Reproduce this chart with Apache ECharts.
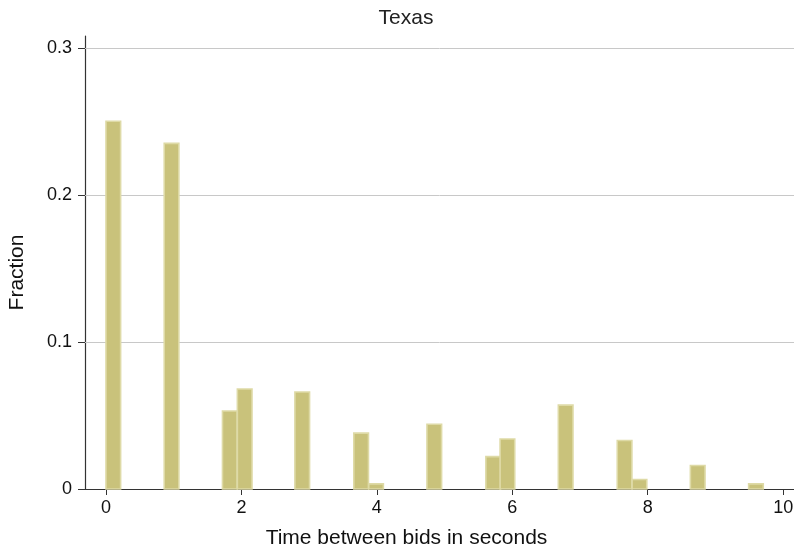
<!DOCTYPE html>
<html>
  <head>
    <meta charset="utf-8">
    <title>Texas</title>
    <script src="https://cdn.jsdelivr.net/npm/echarts@6/dist/echarts.min.js"></script>
    <style>
    html,body{
      height:100%;
      width:100%;
      margin:0px;
      background:#fff;
    }
    #chartDiv{
      width:794px;
      height:551px;
    }
    </style>
  </head>
  <body>
    <div id="chartDiv"></div>
    <script type="text/javascript">
      // left edge of each histogram bin (seconds) and its fraction
      var binStart = [0, 0.86, 1.72, 1.94, 2.79, 3.66, 3.88, 4.74, 5.61, 5.82, 6.68, 7.55, 7.77, 8.63, 9.49];
      var fraction = [0.250, 0.235, 0.053, 0.068, 0.066, 0.038, 0.0035, 0.044, 0.022, 0.034, 0.057, 0.033, 0.0065, 0.016, 0.0035];
      var binWidth = 0.216;
      var yTicks = [0, 0.1, 0.2, 0.3];

      var font = 'Liberation Sans, Arial, Helvetica, sans-serif';
      var bars = binStart.map(function(s, i){ return [s, fraction[i]]; });

      var xMin = -0.31, xMax = 10.16;
      var plotLeft = 85, plotWidth = 709;
      var zeroLeft = plotLeft + (0 - xMin) / (xMax - xMin) * plotWidth;

      var option = {
        animation:false,
        title:{
          text:'Texas',
          left:401,
          top:3,
          textAlign:'center',
          textStyle:{fontFamily:font, fontSize:21, fontWeight:'normal', color:'#222'}
        },
        grid:[
          {left:plotLeft, right:0, top:36, bottom:62, outerBoundsMode:'none', containLabel:false},
          // same scale, starting at x = 0, only for the x ticks and labels
          {left:zeroLeft, right:0, top:36, bottom:62, outerBoundsMode:'none', containLabel:false}
        ],
        xAxis:[
          {
            type:'value',
            gridIndex:0,
            min:xMin,
            max:xMax,
            name:'Time between bids in seconds',
            nameLocation:'middle',
            nameGap:39,
            nameTextStyle:{fontFamily:font, fontSize:21, color:'#111', padding:[0,66,0,0]},
            axisLine:{show:true, onZero:false, lineStyle:{color:'#333', width:1.2}},
            axisTick:{show:false},
            axisLabel:{show:false},
            splitLine:{show:false}
          },
          {
            type:'value',
            gridIndex:1,
            min:0,
            max:xMax,
            interval:2,
            axisLine:{show:false},
            axisTick:{show:true, length:6, lineStyle:{color:'#333'}},
            axisLabel:{fontFamily:font, fontSize:18, color:'#111', margin:10, showMaxLabel:false},
            splitLine:{show:false}
          }
        ],
        yAxis:[
          {
            type:'value',
            gridIndex:0,
            min:0,
            max:0.308,
            interval:0.1,
            name:'Fraction',
            nameLocation:'middle',
            nameGap:57,
            nameTextStyle:{fontFamily:font, fontSize:21, color:'#111', padding:[0,20,0,0]},
            axisLine:{show:true, onZero:false, lineStyle:{color:'#333', width:1.2}},
            axisTick:{show:true, length:7, lineStyle:{color:'#333'}},
            axisLabel:{fontFamily:font, fontSize:18, color:'#111', margin:13,
              showMaxLabel:false,
              formatter:function(v){ return v === 0 ? '0' : v.toFixed(1); }},
            splitLine:{show:false}
          },
          {
            type:'value',
            gridIndex:1,
            min:0,
            max:0.308,
            show:false
          }
        ],
        series:[
          {
            // horizontal reference lines at 0.1, 0.2, 0.3
            type:'line',
            z:1,
            data:[],
            markLine:{
              silent:true,
              symbol:'none',
              label:{show:false},
              lineStyle:{color:'#c8c8c8', width:1, type:'solid'},
              data:yTicks.slice(1).map(function(v){ return {yAxis:v}; })
            }
          },
          {
            type:'custom',
            z:5,
            data:bars,
            renderItem:function(params, api){
              var s = api.value(0), v = api.value(1);
              var p0 = api.coord([s, v]);
              var p1 = api.coord([s + binWidth, 0]);
              return {
                type:'rect',
                shape:{x:p0[0], y:p0[1], width:p1[0]-p0[0], height:p1[1]-p0[1]},
                style:{fill:'#c9c27b', stroke:'#dedaa6', lineWidth:1.6}
              };
            }
          }
        ]
      };

      var chart = echarts.init(document.getElementById('chartDiv'));
      chart.setOption(option);
    </script>
  </body>
</html>
